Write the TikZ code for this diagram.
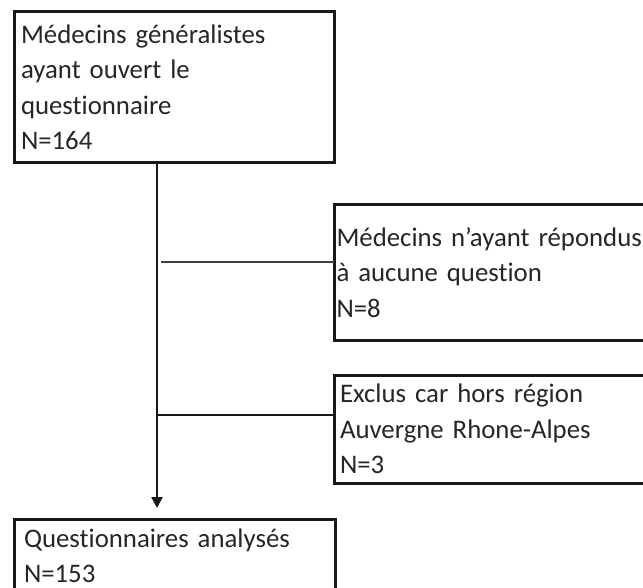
\documentclass[tikz,border=0pt]{standalone}
\usepackage{fontspec}
\setmainfont{Carlito}[Ligatures=NoCommon]
\usetikzlibrary{arrows.meta}
\begin{document}
\begin{tikzpicture}[x=1pt,y=-1pt,
  box/.style={draw=black!90, line width=3pt, anchor=north west, align=left,
    inner ysep=0pt, outer sep=0pt, text=black!85,
    font=\fontsize{26.8}{35.5}\selectfont},
  link/.style={draw=black!90, line width=2.2pt},
  arrowlink/.style={link, -{Triangle[length=11pt,width=11pt]}}]
\useasboundingbox (0,0) rectangle (643,588);
\fill[white] (0,0) rectangle (643,588);
\node[box, inner xsep=7pt, text width=306pt, minimum height=151pt] (b1) at (14,12)
  {Médecins généralistes\\ayant ouvert le\\questionnaire\\N=164};
\node[box, inner xsep=2.5pt, text width=361pt, minimum height=135pt] (b2) at (334,205)
  {Médecins n'ayant répondus\\à aucune question\\N=8};
\node[box, inner xsep=6pt, text width=354pt, minimum height=108pt] (b3) at (334,375)
  {Exclus car hors région\\Auvergne Rhone-Alpes\\N=3};
\node[box, inner xsep=10pt, text width=301pt, minimum height=74pt] (b4) at (14,519)
  {Questionnaires analysés\\N=153};
\coordinate (j1) at (161,262);
\coordinate (j2) at (157,415);
\draw[arrowlink] (b1.south -| j2) -- ([yshift=11pt]b4.north -| j2);
\draw[link, draw=black!75] (j1) -- (j1 -| b2.west);
\draw[link] (j2) -- (j2 -| b3.west);
\end{tikzpicture}
\end{document}
